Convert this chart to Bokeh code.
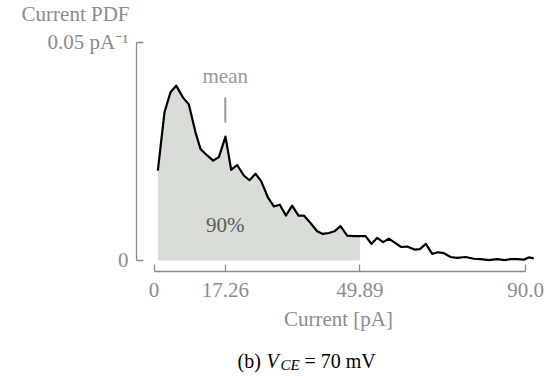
import numpy as np
from bokeh.plotting import figure
from bokeh.models import Range1d, FixedTicker, LinearAxis, Label
from bokeh.layouts import column
from bokeh.core.properties import value
from bokeh.embed import file_html
from bokeh.resources import INLINE

# ---- data ----
current = [0.93, 2.54, 4.00, 5.37, 7.07, 8.44, 10.05, 11.26, 12.88, 14.33,
           15.71, 17.32, 18.69, 20.15, 21.76, 23.13, 24.59, 25.96, 27.58, 29.03,
           30.48, 31.94, 33.47, 35.00, 36.30, 37.91, 39.53, 40.90, 42.35, 43.73,
           45.18, 46.80, 48.41, 50.03, 51.24, 52.69, 54.06, 55.51, 56.89, 58.50,
           59.88, 61.33, 63.11, 64.40, 65.85, 67.39, 68.76, 70.21, 71.83, 73.44,
           75.46, 77.48, 79.09, 81.11, 83.13, 84.91, 86.36, 87.98, 89.59, 90.80,
           92.01]
pdf = [0.0206, 0.0340, 0.0386, 0.0401, 0.0373, 0.0358, 0.0294, 0.0256, 0.0241, 0.0229,
       0.0237, 0.0284, 0.0208, 0.0219, 0.0195, 0.0184, 0.0199, 0.0182, 0.0145, 0.0124,
       0.0128, 0.0103, 0.0126, 0.0103, 0.0103, 0.0086, 0.0067, 0.0061, 0.0063, 0.0067,
       0.0079, 0.0057, 0.0056, 0.0056, 0.0056, 0.0038, 0.0052, 0.0042, 0.0050, 0.0040,
       0.0031, 0.0032, 0.0025, 0.0026, 0.0038, 0.0015, 0.0019, 0.0017, 0.0008, 0.0006,
       0.0008, 0.0004, 0.0003, 0.0001, 0.0003, 0.0001, 0.0003, 0.0003, 0.0002, 0.0007,
       0.0005]
x_ticks = [0, 17.26, 49.89, 90.0]
x_tick_labels = ["0", "17.26", "49.89", "90.0"]
y_ticks = [0, 0.05]
y_tick_labels = ["0", "0.05 pA\u207b\u00b9"]
mean_current = 17.26
q90_current = 49.89
q90_label = "90%"
y_title = "Current PDF"
x_title = "Current [pA]"
caption_parts = ["(b)", "V", "CE", "= 70 mV"]

# ---- layout constants ----
W = 549
TOP_H, MAIN_H, CAP_H = 28, 318, 30
X0, X1 = -4.24, 93.63
Y0, Y1 = -0.002523, 0.05275
FL, FR = 136, 540            # frame left/right (px)
FT, FB = 30, 271             # frame top/bottom (px, page coords)
K = 0.34                     # empirical baseline correction (em)

def px_y(py):
    return Y0 + (FB - py) * (Y1 - Y0) / (FB - FT)

GRAY = "#8c8c8c"
SERIF = "Liberation Serif"
FS = "21px"

def no_align(f):
    try:
        f.frame_align = False
    except Exception:
        pass

def text_strip(height):
    f = figure(width=W, height=height, output_backend="svg", toolbar_location=None,
               title_location=None,
               x_range=Range1d(0, W), y_range=Range1d(height, 0),
               x_axis_location=None, y_axis_location=None,
               min_border=0, min_border_left=0, min_border_right=0,
               min_border_top=0, min_border_bottom=0)
    f.outline_line_color = None
    f.xgrid.visible = False
    f.ygrid.visible = False
    no_align(f)
    return f

# ---- top strip: y title ----
top = text_strip(TOP_H)
top.text(x=[129], y=[21 - K * 21], text=[y_title], text_font=value(SERIF),
         text_font_size=FS, text_color=GRAY, text_align="right",
         text_baseline="alphabetic")

# ---- main plot ----
p = figure(width=W, height=MAIN_H, output_backend="svg", toolbar_location=None,
           title_location=None,
           x_range=Range1d(X0, X1), y_range=Range1d(Y0, Y1),
           x_axis_location=None, y_axis_location=None,
           min_border_left=FL, min_border_right=W - FR,
           min_border_top=FT - TOP_H, min_border_bottom=TOP_H + MAIN_H - FB)
p.outline_line_color = None
p.xgrid.visible = False
p.ygrid.visible = False
no_align(p)

cur = np.array(current)
pd_ = np.array(pdf)
mask = cur < q90_current
fx = np.concatenate([cur[mask], [q90_current]])
fy = np.concatenate([pd_[mask], [np.interp(q90_current, cur, pd_)]])
p.varea(x=fx, y1=np.zeros_like(fx), y2=fy, fill_color="#d8ddd7")

p.line(current, pdf, line_color="black", line_width=2.2, line_join="round")

p.segment(x0=[mean_current], y0=[px_y(122)], x1=[mean_current], y1=[px_y(97)],
          line_color="#9a9a9a", line_width=2)

xaxis = LinearAxis(bounds=(x_ticks[0], x_ticks[-1]), ticker=FixedTicker(ticks=x_ticks),
                   major_label_overrides={t: l for t, l in zip(x_ticks, x_tick_labels)},
                   axis_label=x_title)
yaxis = LinearAxis(bounds=(y_ticks[0], y_ticks[-1]), ticker=FixedTicker(ticks=y_ticks),
                   major_label_overrides={t: l for t, l in zip(y_ticks, y_tick_labels)})
for ax in (xaxis, yaxis):
    ax.axis_line_color = GRAY
    ax.axis_line_width = 1.3
    ax.major_tick_line_color = GRAY
    ax.major_tick_line_width = 1.3
    ax.major_tick_in = 7
    ax.major_tick_out = 0
    ax.minor_tick_line_color = None
    ax.major_label_text_font = SERIF
    ax.major_label_text_font_size = FS
    ax.major_label_text_color = GRAY
    ax.axis_label_text_font = SERIF
    ax.axis_label_text_font_size = FS
    ax.axis_label_text_font_style = "normal"
    ax.axis_label_text_color = GRAY
xaxis.major_label_standoff = 11
xaxis.axis_label_standoff = 7
yaxis.major_label_standoff = 8
p.add_layout(xaxis, "below")
p.add_layout(yaxis, "left")

p.add_layout(Label(x=mean_current, y=px_y(83 - K * 21), text="mean", text_font=SERIF,
                   text_font_size=FS, text_color="#9a9a9a", text_align="center",
                   text_baseline="alphabetic"))
p.add_layout(Label(x=mean_current, y=px_y(232 - K * 21), text=q90_label,
                   text_font=SERIF, text_font_size=FS, text_color="#5a5a5a",
                   text_align="center", text_baseline="alphabetic"))

# ---- caption strip ----
cap = text_strip(CAP_H)
base = 367 - (TOP_H + MAIN_H)
cap.text(x=[237], y=[base - K * 20], text=[caption_parts[0]], text_font=value(SERIF),
         text_font_size="20px", text_color="black", text_baseline="alphabetic")
cap.text(x=[266], y=[base - K * 20], text=[caption_parts[1]], text_font=value(SERIF),
         text_font_size="20px", text_color="black", text_font_style="italic",
         text_baseline="alphabetic")
cap.text(x=[280], y=[base + 3 - K * 15], text=[caption_parts[2]],
         text_font=value(SERIF), text_font_size="15px", text_color="black",
         text_font_style="italic", text_baseline="alphabetic")
cap.text(x=[304], y=[base - K * 20], text=[caption_parts[3]], text_font=value(SERIF),
         text_font_size="20px", text_color="black", text_baseline="alphabetic")

layout = column(top, p, cap, spacing=0)
open("out.html", "w").write(file_html(layout, INLINE))
